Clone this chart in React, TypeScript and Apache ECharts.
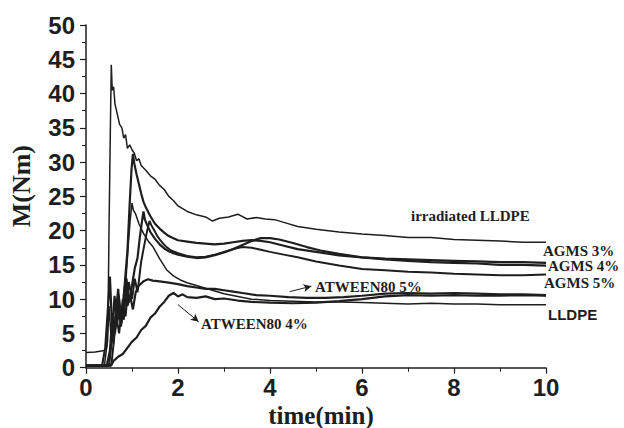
import React, { useEffect, useRef } from "react";
import * as echarts from "echarts";

// time (min), torque M (Nm)
const irradiatedLLDPE: [number, number][] = [
  [0, 2.2], [0.2, 2.3], [0.4, 2.5], [0.45, 3], [0.48, 8], [0.5, 20], [0.53, 35], [0.55, 44.2], [0.57, 40.5],
  [0.6, 41], [0.63, 38.5], [0.68, 37], [0.73, 35.5], [0.78, 35], [0.82, 33.5], [0.86, 34], [0.9, 32],
  [0.95, 32.5], [1.0, 31.8], [1.05, 31.3], [1.1, 30.2], [1.15, 30.5], [1.2, 29.5], [1.3, 28.8], [1.4, 28],
  [1.5, 27.5], [1.6, 26.6], [1.7, 26], [1.8, 25], [1.9, 24.4], [2.0, 23.6], [2.1, 23.2], [2.2, 22.8],
  [2.4, 22.3], [2.6, 22.0], [2.75, 21.4], [2.9, 21.8], [3.1, 22.0], [3.3, 22.4], [3.5, 21.7], [3.7, 21.9],
  [3.9, 21.7], [4.1, 21.6], [4.3, 21.2], [4.6, 20.6], [5.0, 20.2], [5.5, 19.8], [6.0, 19.5], [6.5, 19.3],
  [7.0, 19.0], [7.5, 19.0], [8.0, 18.7], [8.5, 18.6], [9.0, 18.5], [9.5, 18.3], [10, 18.3],
];

const agms3: [number, number][] = [
  [0, 0.3], [0.45, 0.3], [0.52, 2.5], [0.58, 8], [0.63, 5], [0.7, 9.5], [0.76, 6], [0.84, 12], [0.9, 17],
  [0.95, 24], [0.99, 29], [1.02, 31.2], [1.05, 29.8], [1.1, 28.2], [1.15, 26.8], [1.2, 25.4], [1.25, 24.2],
  [1.3, 23.4], [1.4, 22.1], [1.5, 21.0], [1.6, 20.3], [1.7, 19.7], [1.8, 19.2], [1.9, 18.9], [2.0, 18.6],
  [2.2, 18.4], [2.4, 18.2], [2.6, 18.1], [2.8, 18.0], [3.0, 18.1], [3.2, 18.3], [3.4, 18.5], [3.6, 18.6],
  [3.8, 18.5], [4.0, 18.3], [4.3, 17.8], [4.6, 17.3], [5.0, 16.9], [5.5, 16.4], [6.0, 16.1], [6.5, 15.9],
  [7.0, 15.8], [7.5, 15.7], [8.0, 15.6], [8.5, 15.5], [9.0, 15.4], [9.5, 15.4], [10, 15.3],
];

const agms4: [number, number][] = [
  [0, 0.3], [0.5, 0.3], [0.56, 4], [0.62, 10.5], [0.67, 6.5], [0.74, 8.5], [0.82, 7], [0.88, 13], [0.93, 9.5],
  [1.0, 12], [1.06, 14.5], [1.12, 16], [1.17, 19], [1.22, 21.5], [1.25, 22.8], [1.28, 21.6], [1.33, 20.8],
  [1.4, 19.8], [1.5, 18.8], [1.6, 18.0], [1.7, 17.4], [1.8, 17.0], [1.9, 16.7], [2.0, 16.5], [2.2, 16.2],
  [2.4, 16.0], [2.6, 16.1], [2.8, 16.4], [3.0, 16.8], [3.2, 17.3], [3.4, 17.9], [3.6, 18.5], [3.8, 18.9],
  [4.0, 18.9], [4.2, 18.7], [4.5, 18.2], [4.8, 17.6], [5.1, 17.1], [5.5, 16.6], [6.0, 16.1], [6.5, 15.8],
  [7.0, 15.6], [7.5, 15.4], [8.0, 15.3], [8.5, 15.2], [9.0, 15.0], [9.5, 15.0], [10, 14.9],
];

const agms5: [number, number][] = [
  [0, 0.3], [0.55, 0.3], [0.6, 3.5], [0.66, 7.5], [0.72, 5], [0.8, 10], [0.86, 7.5], [0.93, 12.5], [1.0, 10],
  [1.06, 13], [1.12, 11], [1.2, 15.5], [1.27, 18], [1.33, 20], [1.38, 21.4], [1.42, 20.8], [1.48, 20.1],
  [1.55, 19.2], [1.65, 18.3], [1.75, 17.6], [1.85, 17.1], [2.0, 16.7], [2.2, 16.3], [2.4, 16.1], [2.6, 16.2],
  [2.8, 16.5], [3.0, 16.9], [3.2, 17.3], [3.4, 17.6], [3.6, 17.5], [3.8, 17.2], [4.0, 16.9], [4.3, 16.5],
  [4.6, 16.1], [5.0, 15.5], [5.5, 14.9], [6.0, 14.4], [6.5, 14.2], [7.0, 14.0], [7.5, 13.9], [8.0, 13.7],
  [8.5, 13.6], [9.0, 13.5], [9.5, 13.5], [10, 13.6],
];

const atween5: [number, number][] = [
  [0, 0.3], [0.35, 0.3], [0.42, 3], [0.48, 9], [0.52, 13.3], [0.56, 7], [0.6, 4.5], [0.66, 9], [0.7, 11.5],
  [0.75, 7], [0.8, 8], [0.86, 13], [0.9, 9], [0.96, 10.5], [1.02, 8.5], [1.08, 11], [1.15, 12], [1.25, 12.6],
  [1.35, 12.9], [1.45, 12.7], [1.6, 12.6], [1.8, 12.4], [2.0, 12.2], [2.2, 11.9], [2.4, 11.7], [2.6, 11.5],
  [2.8, 11.5], [3.0, 11.3], [3.2, 11.1], [3.4, 10.9], [3.7, 10.6], [4.0, 10.5], [4.4, 10.3], [4.8, 10.2],
  [5.2, 10.2], [5.6, 10.3], [6.0, 10.5], [6.5, 10.8], [7.0, 10.9], [7.5, 10.8], [8.0, 10.9], [8.5, 10.8],
  [9.0, 10.7], [9.5, 10.7], [10, 10.6],
];

const atween4: [number, number][] = [
  [0, 0.3], [0.45, 0.3], [0.55, 0.4], [0.6, 1.0], [0.7, 1.6], [0.8, 2.0], [0.9, 2.9], [1.0, 3.8], [1.1, 4.4],
  [1.2, 5.5], [1.3, 6.1], [1.4, 7.3], [1.5, 7.9], [1.6, 8.9], [1.7, 9.6], [1.8, 10.5], [1.9, 10.9], [2.0, 10.4],
  [2.1, 10.7], [2.2, 10.3], [2.4, 10.2], [2.6, 10.4], [2.8, 10.0], [3.0, 10.1], [3.3, 9.8], [3.6, 9.6],
  [4.0, 9.5], [4.5, 9.4], [5.0, 9.5], [5.5, 9.7], [6.0, 10.0], [6.5, 10.4], [7.0, 10.6], [7.5, 10.5],
  [8.0, 10.6], [8.5, 10.5], [9.0, 10.5], [9.5, 10.6], [10, 10.5],
];

const lldpe: [number, number][] = [
  [0, 0.3], [0.4, 0.3], [0.47, 4], [0.5, 9], [0.54, 5], [0.6, 3.5], [0.66, 8], [0.72, 10.5], [0.78, 6.5],
  [0.84, 9], [0.88, 14], [0.92, 18], [0.96, 21.5], [1.0, 24], [1.03, 23], [1.08, 22.4], [1.15, 21],
  [1.25, 19.6], [1.35, 18.5], [1.46, 17.6], [1.6, 15.9], [1.75, 14.3], [1.9, 13.4], [2.05, 12.8], [2.2, 12.4],
  [2.4, 12.0], [2.6, 11.6], [2.8, 11.2], [3.0, 10.8], [3.3, 10.4], [3.6, 10.0], [4.0, 9.8], [4.5, 9.7],
  [5.0, 9.6], [5.5, 9.6], [6.0, 9.5], [6.5, 9.4], [7.0, 9.3], [7.5, 9.4], [8.0, 9.3], [8.5, 9.3], [9.0, 9.2],
  [9.5, 9.2], [10, 9.2],
];

const xTicks = { min: 0, max: 10, interval: 2 };
const yTicks = { min: 0, max: 50, interval: 5 };

// annotation arrows (data coords): [from, to]
const arrows: [[number, number], [number, number]][] = [
  [[2.0, 9.2], [2.45, 6.7]],
  [[4.43, 11.1], [4.9, 11.9]],
  [[9.43, 9.2], [10.04, 7.7]],
];

const INK = "#1e1e1e";

export default function App() {
  const ref = useRef<HTMLDivElement>(null);
  useEffect(() => {
    if (!ref.current) return;
    const chart = echarts.init(ref.current, undefined, { renderer: "svg" });
    const lineSeries = (name: string, data: [number, number][], width: number, extra: any = {}) => ({
      name,
      type: "line",
      data,
      showSymbol: false,
      symbol: "none",
      clip: false,
      lineStyle: { color: INK, width },
      ...extra,
    });
    const serif = "'Liberation Serif', 'DejaVu Serif', serif";
    const sans = "'Liberation Sans', Arial, sans-serif";
    chart.setOption({
      animation: false,
      backgroundColor: "#fff",
      grid: { left: 86, right: 78, top: 25, bottom: 60.3, containLabel: false },
      xAxis: {
        type: "value",
        ...xTicks,
        axisLine: { show: true, lineStyle: { color: INK, width: 1.5 } },
        axisTick: { show: true, inside: false, length: 6, lineStyle: { color: INK, width: 1.2 } },
        minorTick: { show: true, splitNumber: 2, length: 4, lineStyle: { color: INK, width: 1 } },
        splitLine: { show: false },
        axisLabel: { color: INK, fontFamily: sans, fontWeight: "bold", fontSize: 24, lineHeight: 22, margin: 9 },
      },
      yAxis: {
        type: "value",
        ...yTicks,
        axisLine: { show: true, lineStyle: { color: INK, width: 1.5 } },
        axisTick: { show: true, inside: false, length: 6, lineStyle: { color: INK, width: 1.2 } },
        minorTick: { show: true, splitNumber: 2, length: 4, lineStyle: { color: INK, width: 1 } },
        splitLine: { show: false },
        axisLabel: { color: INK, fontFamily: sans, fontWeight: "bold", fontSize: 24, margin: 11 },
      },
      series: [
        lineSeries("irradiated LLDPE", irradiatedLLDPE, 1.5),
        lineSeries("AGMS 3%", agms3, 2.2),
        lineSeries("AGMS 4%", agms4, 2.2),
        lineSeries("AGMS 5%", agms5, 2),
        lineSeries("ATWEEN80 5%", atween5, 2.2),
        lineSeries("ATWEEN80 4%", atween4, 2.2, {
          markLine: {
            silent: true,
            symbol: ["none", "arrow"],
            symbolSize: [6, 8],
            label: { show: false },
            lineStyle: { color: INK, width: 1, type: "solid" },
            data: arrows.map(([a, b]) => [{ coord: a }, { coord: b }]),
          },
        }),
        lineSeries("LLDPE", lldpe, 1.5),
      ],
      graphic: [
        { type: "text", left: 8, top: 145, style: { text: "M(Nm)", font: `bold 26px ${serif}`, fill: INK }, rotation: Math.PI / 2, x: 10, y: 228, originX: 0, originY: 0 },
        { type: "text", x: 321, y: 415, style: { text: "time(min)", font: `bold 25px ${serif}`, lineHeight: 24, fill: INK, align: "center", verticalAlign: "middle" } },
        { type: "text", x: 411, y: 216, style: { text: "irradiated LLDPE", font: `bold 15px ${serif}`, fill: INK, verticalAlign: "middle" } },
        { type: "text", x: 543, y: 251, style: { text: "AGMS 3%", font: `bold 15px ${serif}`, fill: INK, verticalAlign: "middle" } },
        { type: "text", x: 548, y: 266, style: { text: "AGMS 4%", font: `bold 15px ${serif}`, fill: INK, verticalAlign: "middle" } },
        { type: "text", x: 544, y: 283, style: { text: "AGMS 5%", font: `bold 15px ${serif}`, fill: INK, verticalAlign: "middle" } },
        { type: "text", x: 315, y: 287, style: { text: "ATWEEN80 5%", font: `bold 15px ${serif}`, fill: INK, verticalAlign: "middle" } },
        { type: "text", x: 201, y: 324, style: { text: "ATWEEN80 4%", font: `bold 15px ${serif}`, fill: INK, verticalAlign: "middle" } },
        { type: "text", x: 548, y: 314, style: { text: "LLDPE", font: `bold 15px ${sans}`, fill: INK, verticalAlign: "middle" } },
      ],
    });
    return () => chart.dispose();
  }, []);
  return <div ref={ref} style={{ width: 624, height: 428, position: "absolute", left: 0, top: 0 }} />;
}
